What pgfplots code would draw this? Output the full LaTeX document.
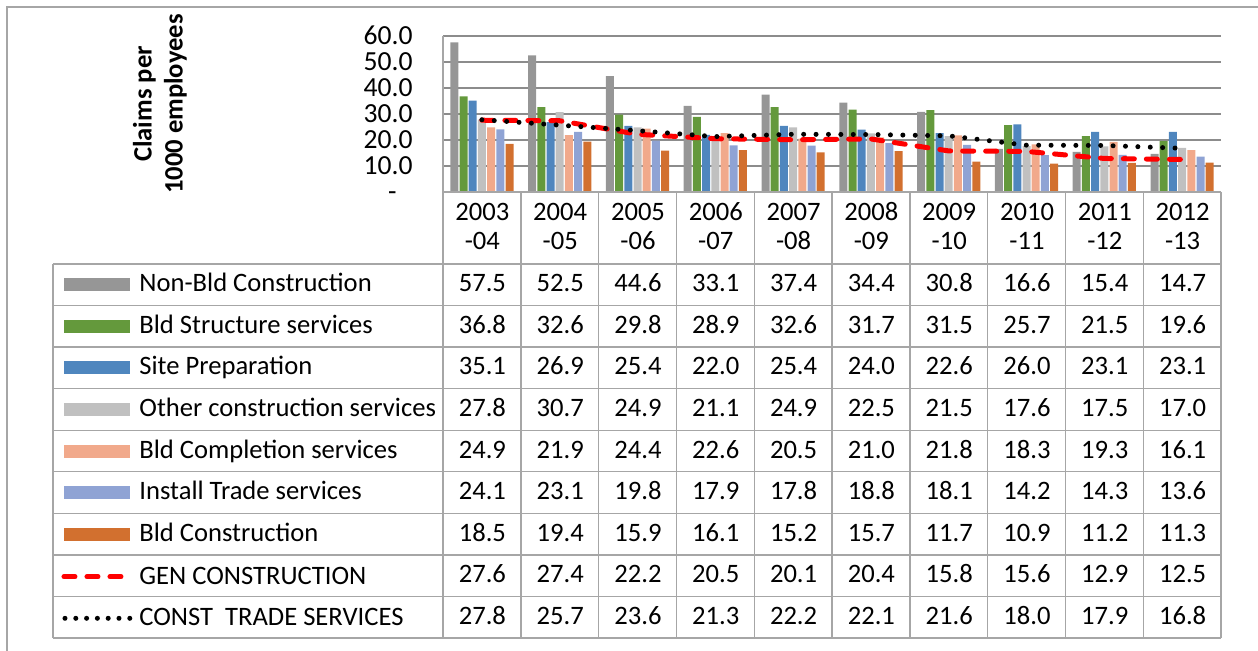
\documentclass[border=0pt]{standalone}
\usepackage{fontspec}
\setmainfont{Carlito}
\usepackage{pgfplots}
\usepackage{pgfplotstable}
\pgfplotsset{compat=1.18}

\definecolor{cNonBld}{HTML}{969696}
\definecolor{cStruct}{HTML}{64993C}
\definecolor{cSite}{HTML}{4F86BE}
\definecolor{cOther}{HTML}{C0C0C0}
\definecolor{cCompl}{HTML}{F1A98B}
\definecolor{cInst}{HTML}{8FA3D4}
\definecolor{cBld}{HTML}{D2702F}
\definecolor{tblline}{HTML}{A6A6A6}

% claims per 1000 employees, one row per financial year
\pgfplotstableread{
x  yr   nonbld struct site  other compl inst  bld   gen   cts
0  2003 57.5   36.8   35.1  27.8  24.9  24.1  18.5  27.6  27.8
1  2004 52.5   32.6   26.9  30.7  21.9  23.1  19.4  27.4  25.7
2  2005 44.6   29.8   25.4  24.9  24.4  19.8  15.9  22.2  23.6
3  2006 33.1   28.9   22.0  21.1  22.6  17.9  16.1  20.5  21.3
4  2007 37.4   32.6   25.4  24.9  20.5  17.8  15.2  20.1  22.2
5  2008 34.4   31.7   24.0  22.5  21.0  18.8  15.7  20.4  22.1
6  2009 30.8   31.5   22.6  21.5  21.8  18.1  11.7  15.8  21.6
7  2010 16.6   25.7   26.0  17.6  18.3  14.2  10.9  15.6  18.0
8  2011 15.4   21.5   23.1  17.5  19.3  14.3  11.2  12.9  17.9
9  2012 14.7   19.6   23.1  17.0  16.1  13.6  11.3  12.5  16.8
}\claims

\tikzset{px/.style={x=0.5pt,y=-0.5pt,xshift=-221.5pt,yshift=96pt}}

\begin{document}
\begin{tikzpicture}[font=\fontsize{13.3pt}{15pt}\selectfont]
\path[use as bounding box] (-221.5pt,-229.5pt) rectangle (407.5pt,96pt);
\begin{scope}[px]
  \draw[black!35, line width=0.7pt] (7,651) -- (7,7) -- (1258,7);
\end{scope}

\begin{axis}[
    at={(0,0)}, anchor=south west,
    scale only axis, width=389pt, height=78pt,
    xmin=-0.5, xmax=9.5, ymin=0, ymax=60,
    xtick=\empty,
    ytick={0,10,...,60},
    yticklabels={-\kern8pt,10.0,20.0,30.0,40.0,50.0,60.0},
    yticklabel style={inner sep=0pt, xshift=-15pt, text height=8.7pt,
        text depth=0pt, font=\fontsize{13.8pt}{15pt}\selectfont},
    major tick length=0pt,
    axis x line*=bottom, axis y line*=left,
    axis line style={tblline, line width=0.7pt},
    ymajorgrids, grid style={black!45, line width=0.7pt},
    ybar=0.6pt, bar width=4pt,
    clip=false,
]
\addplot[draw=none, fill=cNonBld] table[x=x, y=nonbld] {\claims};
\addplot[draw=none, fill=cStruct] table[x=x, y=struct] {\claims};
\addplot[draw=none, fill=cSite]   table[x=x, y=site]   {\claims};
\addplot[draw=none, fill=cOther]  table[x=x, y=other]  {\claims};
\addplot[draw=none, fill=cCompl]  table[x=x, y=compl]  {\claims};
\addplot[draw=none, fill=cInst]   table[x=x, y=inst]   {\claims};
\addplot[draw=none, fill=cBld]    table[x=x, y=bld]    {\claims};
\addplot[sharp plot, red, line width=2.5pt, line cap=round,
    dash pattern=on 5.5pt off 6pt] table[x=x, y=gen] {\claims};
\addplot[sharp plot, black, line width=2.5pt, line cap=round,
    dash pattern=on 0pt off 6.2pt] table[x=x, y=cts] {\claims};
\end{axis}

\begin{scope}[px]
  % y axis title
  \node[rotate=90, align=center, font=\fontsize{13.3pt}{15.5pt}\selectfont\bfseries]
    at (160,104) {Claims per\\1000 employees};

  % data table grid
  \draw[tblline, line width=0.7pt] (443,192) -- (1221,192);
  \foreach \i in {0,...,10}
    \draw[tblline, line width=0.7pt] (443+\i*77.8,192) -- (443+\i*77.8,638);
  \foreach \r in {0,...,9}
    \draw[tblline, line width=0.7pt] (53,264+\r*41.56) -- (1221,264+\r*41.56);
  \draw[tblline, line width=0.7pt] (53,264) -- (53,638);

  % year headers
  \foreach \yr/\nx [count=\c from 0] in {2003/04,2004/05,2005/06,2006/07,2007/08,
      2008/09,2009/10,2010/11,2011/12,2012/13} {
    \node[anchor=mid] at (482.4+\c*77.8,216) {\yr};
    \node[anchor=mid] at (482.4+\c*77.8,245) {-\nx};
  }

  % values
  \foreach \r in {0,...,8}
    \foreach \c in {0,...,9} {
      \pgfmathtruncatemacro\ci{\r+2}
      \pgfplotstablegetelem{\c}{[index]\ci}\of\claims
      \node[anchor=mid] at (482.4+\c*77.8,287+\r*41.56) {\pgfplotsretval};
    }

  % legend column
  \foreach \name/\col [count=\r from 0] in {Non-Bld Construction/cNonBld,
      Bld Structure services/cStruct, Site Preparation/cSite,
      Other construction services/cOther, Bld Completion services/cCompl,
      Install Trade services/cInst, Bld Construction/cBld} {
    \fill[\col] (64,278.3+\r*41.56) rectangle (130,291.3+\r*41.56);
    \node[anchor=mid west, inner sep=0pt] at (139,287+\r*41.56) {\name};
  }
  \draw[red, line width=2.5pt, line cap=round, dash pattern=on 5.5pt off 6pt]
    (64,576.7) -- (128,576.7);
  \node[anchor=mid west, inner sep=0pt] at (139,579.5) {GEN CONSTRUCTION};
  \draw[black, line width=2.5pt, line cap=round, dash pattern=on 0pt off 5.4pt]
    (65,618.3) -- (130,618.3);
  \node[anchor=mid west, inner sep=0pt] at (139,621) {CONST\ \ TRADE SERVICES};
\end{scope}
\end{tikzpicture}
\end{document}
